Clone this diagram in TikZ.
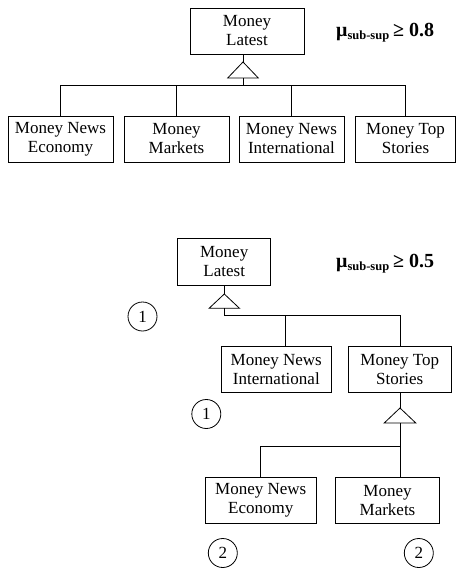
\documentclass[tikz,border=0pt]{standalone}
\usepackage{fontspec}
\setmainfont{Liberation Serif}
\begin{document}
\begin{tikzpicture}[x=1pt,y=-1pt,
  box/.style={draw,line width=0.8pt,inner sep=0pt,align=center,font=\fontsize{17}{19}\selectfont},
  circ/.style={draw,circle,line width=0.8pt,inner sep=0pt,minimum size=29pt,font=\fontsize{17}{19}\selectfont},
  conn/.style={line width=0.8pt},
  mu/.style={inner sep=0pt,anchor=base west,font=\fontsize{20}{22}\selectfont\bfseries}]
\useasboundingbox (0,0) rectangle (456,570);
% ---------- top diagram ----------
\node[box,minimum width=114pt,minimum height=46pt] (tL) at (247,31) {Money\\Latest};
\node[box,minimum width=105pt,minimum height=46pt] (b1) at (60.5,139) {Money News\\Economy};
\node[box,minimum width=105pt,minimum height=46pt] (b2) at (176.5,139) {Money\\Markets};
\node[box,minimum width=105pt,minimum height=46pt] (b3) at (291.5,139) {Money News\\International};
\node[box,minimum width=100pt,minimum height=46pt] (b4) at (405.5,139) {Money Top\\Stories};
\node[mu] (mu1) at (336,36.5) {μ\textsubscript{\fontsize{12.5}{13}\selectfont sub-sup}\,≥ 0.8};
\coordinate (t1) at (243,62);
\coordinate (t1b) at (243,78);
\coordinate (bus1) at (243,85.3);
\draw[conn] (t1) -- ++(-15.3,16) -- ++(30.6,0) -- cycle;
\draw[conn] (t1 |- tL.south) -- (t1);
\draw[conn] (t1b) -- (bus1);
\draw[conn] (b1.north) |- (bus1);
\draw[conn] (b2.north) |- (bus1);
\draw[conn] (b3.north) |- (bus1);
\draw[conn] (b4.north) |- (bus1);
% ---------- bottom diagram ----------
\node[box,minimum width=93pt,minimum height=46.7pt] (L2) at (224.2,261.7) {Money\\Latest};
\node[mu] (mu2) at (336,267) {μ\textsubscript{\fontsize{12.5}{13}\selectfont sub-sup}\,≥ 0.5};
\node[box,minimum width=110.7pt,minimum height=46pt] (MNI) at (276.3,369.7) {Money News\\International};
\node[box,minimum width=102.7pt,minimum height=46pt] (MTS) at (399.7,369.7) {Money Top\\Stories};
\node[box,minimum width=110.7pt,minimum height=46pt] (MNE) at (260.7,500.3) {Money News\\Economy};
\node[box,minimum width=103.6pt,minimum height=46pt] (MM) at (387.5,500.3) {Money\\Markets};
\coordinate (t2) at (224.3,294);
\coordinate (t2b) at (224.3,308.3);
\coordinate (bus2) at (224.3,315.7);
\coordinate (k2) at (285.7,315.7);
\draw[conn] (t2) -- ++(-15.2,14.3) -- ++(30.4,0) -- cycle;
\draw[conn] (t2 |- L2.south) -- (t2);
\draw[conn] (t2b) -- (bus2) -| (k2 |- MNI.north);
\draw[conn] (bus2) -| (MTS.north -| 400,0);
\coordinate (t3) at (400,408);
\coordinate (t3b) at (400,423);
\coordinate (bus3) at (400,446);
\draw[conn] (t3) -- ++(-15.8,15) -- ++(31.6,0) -- cycle;
\draw[conn] (t3 |- MTS.south) -- (t3);
\draw[conn] (t3b) -- (t3b |- MM.north);
\draw[conn] (bus3) -| (MNE.north);
\node[circ] (c1) at (142.5,316.5) {1};
\node[circ] (c2) at (206.3,414) {1};
\node[circ] (c3) at (222.8,553) {2};
\node[circ] (c4) at (418.8,553) {2};
\end{tikzpicture}
\end{document}
